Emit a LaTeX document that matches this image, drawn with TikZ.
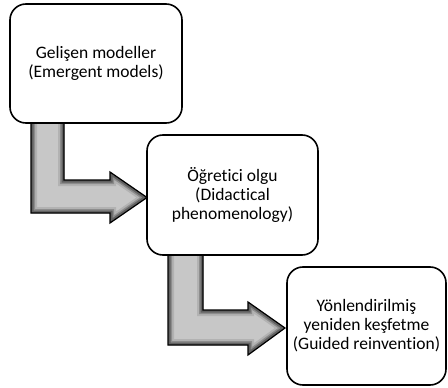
\documentclass[tikz,border=0pt]{standalone}
\usepackage{fontspec}
\setmainfont{Carlito}[Ligatures=NoCommon]
\usetikzlibrary{calc}
\tikzset{
  box/.style={draw=black, line width=1.6pt, fill=white, rounded corners=16pt, align=center,
    font=\fontsize{17.5}{19}\selectfont, inner sep=0pt},
}
\begin{document}
\begin{tikzpicture}[x=1pt,y=-1pt]
\useasboundingbox (0,0) rectangle (448,388);
\def\arrowA{(31,110) -- (64,110) -- (64,180) -- (110,180) -- (110,172) -- (147,197.5) -- (110,223) -- (110,213) -- (31,213) -- cycle}
\def\arrowB{(168,245) -- (203,245) -- (203,310) -- (248,310) -- (248,302) -- (285,328) -- (248,355) -- (248,345) -- (168,345) -- cycle}
\foreach \ar in {\arrowA,\arrowB}{
  \begin{scope}
    \clip \ar;
    \fill[black!22] \ar;
    \draw[line width=12pt, black!30] \ar;
    \draw[line width=8pt, black!45] \ar;
    \draw[line width=5pt, black!62] \ar;
  \end{scope}
  \draw[black, line width=1.2pt, line join=miter] \ar;
}
\node[box, minimum width=172pt, minimum height=119pt] (b1) at (96,63.5)
  {Gelişen modeller\\(Emergent models)};
\node[box, minimum width=171pt, minimum height=120pt] (b2) at (232.5,195)
  {Öğretici olgu\\(Didactical\\phenomenology)};
\node[box, minimum width=159pt, minimum height=118pt] (b3) at (366.5,326)
  {Yönlendirilmiş\\yeniden keşfetme\\(Guided reinvention)};
\end{tikzpicture}
\end{document}
